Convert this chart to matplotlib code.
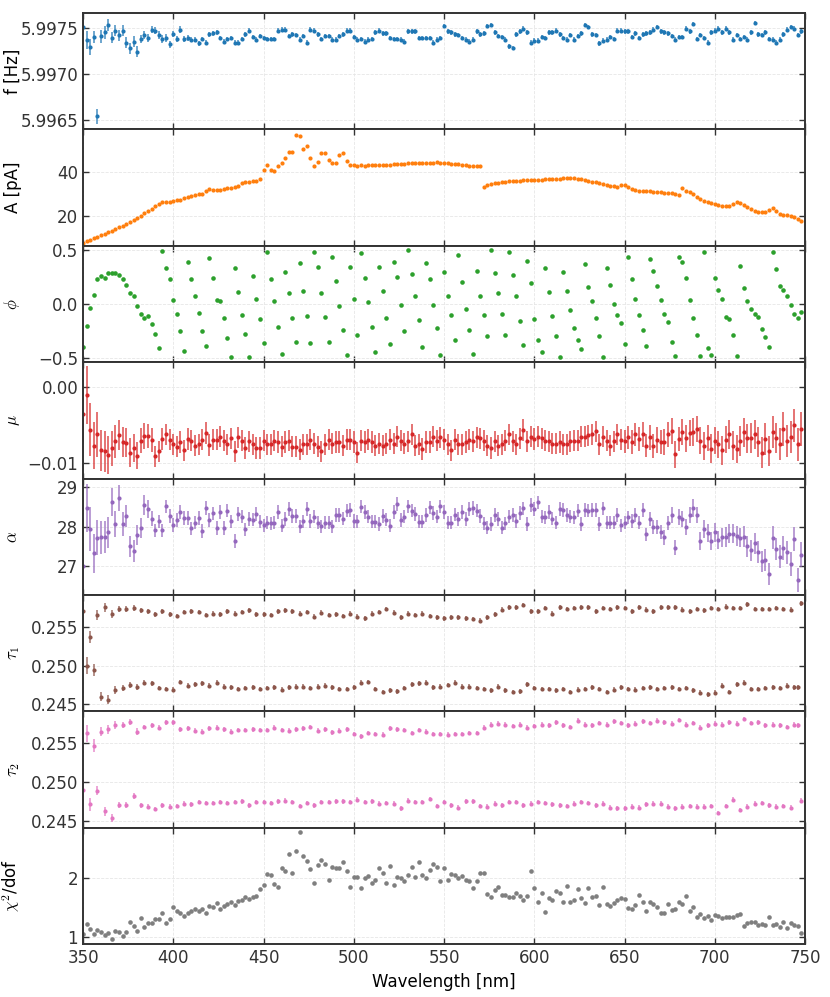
import numpy as np
import matplotlib
matplotlib.use('Agg')
import matplotlib.pyplot as plt
from matplotlib.colors import to_rgba
from matplotlib.ticker import FuncFormatter

# wavelength grid, 350 .. 748 nm in 2 nm steps
wavelength = np.arange(350, 750, 2)

freq = [
    5.99751, 5.99737, 5.99729, 5.99740, 5.99654, 5.99741, 5.99745, 5.99753, 5.99739, 5.99747,
    5.99742, 5.99747, 5.99734, 5.99728, 5.99735, 5.99724, 5.99738, 5.99742, 5.99739, 5.99748,
    5.99747, 5.99742, 5.99738, 5.99739, 5.99732, 5.99743, 5.99738, 5.99748, 5.99738, 5.99739,
    5.99737, 5.99737, 5.99733, 5.99738, 5.99734, 5.99743, 5.99744, 5.99745, 5.99739, 5.99735,
    5.99738, 5.99739, 5.99734, 5.99734, 5.99738, 5.99743, 5.99747, 5.99740, 5.99737, 5.99741,
    5.99739, 5.99738, 5.99738, 5.99738, 5.99747, 5.99748, 5.99748, 5.99741, 5.99743, 5.99742,
    5.99737, 5.99741, 5.99734, 5.99748, 5.99747, 5.99743, 5.99738, 5.99741, 5.99741, 5.99737,
    5.99737, 5.99741, 5.99743, 5.99747, 5.99747, 5.99740, 5.99737, 5.99738, 5.99735, 5.99737,
    5.99738, 5.99745, 5.99747, 5.99744, 5.99744, 5.99739, 5.99738, 5.99738, 5.99737, 5.99735,
    5.99746, 5.99746, 5.99746, 5.99739, 5.99739, 5.99739, 5.99739, 5.99734, 5.99737, 5.99739,
    5.99752, 5.99746, 5.99745, 5.99743, 5.99742, 5.99739, 5.99737, 5.99735, 5.99737, 5.99746,
    5.99743, 5.99744, 5.99752, 5.99753, 5.99745, 5.99741, 5.99740, 5.99737, 5.99730, 5.99728,
    5.99743, 5.99746, 5.99749, 5.99745, 5.99734, 5.99736, 5.99736, 5.99740, 5.99739, 5.99745,
    5.99745, 5.99747, 5.99743, 5.99739, 5.99737, 5.99742, 5.99737, 5.99741, 5.99744, 5.99753,
    5.99751, 5.99743, 5.99742, 5.99733, 5.99736, 5.99737, 5.99740, 5.99738, 5.99747, 5.99747,
    5.99746, 5.99746, 5.99740, 5.99744, 5.99739, 5.99743, 5.99744, 5.99745, 5.99748, 5.99751,
    5.99746, 5.99745, 5.99744, 5.99741, 5.99737, 5.99740, 5.99740, 5.99749, 5.99746, 5.99754,
    5.99738, 5.99742, 5.99739, 5.99734, 5.99745, 5.99747, 5.99749, 5.99745, 5.99749, 5.99745,
    5.99737, 5.99742, 5.99738, 5.99740, 5.99737, 5.99745, 5.99755, 5.99743, 5.99742, 5.99745,
    5.99738, 5.99737, 5.99734, 5.99737, 5.99743, 5.99748, 5.99751, 5.99749, 5.99742, 5.99746,
]
freq_err = ([9e-5, 1e-4, 9e-5, 7e-5, 8e-5, 7e-5, 7e-5, 7e-5, 6e-5, 6e-5,
             6e-5, 6e-5, 6e-5, 6e-5, 6e-5, 6e-5, 4e-5, 4e-5, 4e-5, 4e-5,
             4e-5, 4e-5, 4e-5, 4e-5, 4e-5, 3.5e-5, 3.5e-5, 3.5e-5, 3.5e-5, 3.5e-5]
            + [2.5e-5] * 170)

amp = [
    7.8, 8.5, 9.3, 10.0, 10.7, 11.4, 12.1, 12.7, 13.4, 14.1,
    14.9, 15.7, 16.6, 17.5, 18.4, 19.3, 20.3, 21.3, 22.3, 23.3,
    24.5, 25.5, 26.3, 26.5, 26.7, 26.9, 27.2, 27.6, 28.2, 28.8,
    29.3, 29.8, 30.0, 30.2, 31.5, 32.3, 32.0, 31.9, 32.1, 32.4,
    32.7, 33.0, 33.4, 34.0, 35.3, 35.6, 35.7, 36.0, 36.3, 36.9,
    41.0, 43.4, 41.0, 40.5, 42.8, 44.3, 46.6, 49.2, 49.5, 57.2,
    56.6, 50.8, 52.0, 46.5, 42.8, 44.6, 48.9, 48.8, 45.7, 44.2,
    44.2, 48.0, 48.9, 45.1, 43.4, 43.2, 43.1, 43.2, 43.1, 43.3,
    43.2, 43.3, 43.4, 43.5, 43.5, 43.6, 43.7, 43.8, 43.9, 44.0,
    44.1, 44.2, 44.3, 44.4, 44.3, 44.2, 44.3, 44.5, 44.6, 44.4,
    44.3, 44.2, 44.0, 43.9, 43.7, 43.5, 43.3, 43.1, 43.0, 42.9,
    42.8, 33.4, 34.3, 34.8, 35.1, 35.4, 35.6, 35.8, 36.0, 36.2,
    36.2, 36.3, 36.4, 36.5, 36.5, 36.6, 36.6, 36.7, 36.8, 36.9,
    37.0, 37.1, 37.2, 37.3, 37.4, 37.4, 37.3, 37.2, 37.0, 36.6,
    36.2, 35.8, 35.5, 35.2, 34.8, 34.4, 34.0, 33.7, 33.5, 34.4,
    34.3, 33.4, 32.3, 31.8, 31.5, 31.4, 31.3, 31.3, 31.2, 31.1,
    31.0, 30.8, 30.6, 30.4, 30.1, 29.7, 32.8, 31.6, 31.2, 30.2,
    29.0, 28.0, 27.0, 26.4, 26.0, 25.7, 25.2, 24.9, 24.7, 24.6,
    25.4, 26.3, 26.2, 25.2, 24.2, 23.1, 22.4, 21.9, 21.8, 22.1,
    22.7, 23.6, 22.3, 20.9, 20.6, 20.5, 20.3, 19.8, 18.9, 17.8,
]
amp_err = [0.3] * 200

phase = [
    -0.40, -0.20, -0.04, 0.08, 0.23, 0.26, 0.24, 0.29, 0.29, 0.29,
    0.27, 0.23, 0.18, 0.10, 0.07, -0.02, -0.09, -0.13, -0.11, -0.19,
    -0.28, -0.41, 0.49, 0.33, 0.23, 0.04, -0.09, -0.25, -0.44, 0.39,
    0.23, 0.07, -0.08, -0.25, -0.39, 0.43, 0.24, 0.04, 0.03, -0.13,
    -0.32, -0.49, 0.33, 0.11, -0.10, -0.28, -0.49, 0.26, 0.05, -0.14,
    -0.36, 0.48, 0.23, 0.03, -0.21, -0.46, 0.30, 0.10, -0.13, -0.35,
    0.38, 0.12, -0.11, -0.36, 0.48, 0.34, 0.10, -0.12, -0.35, 0.44,
    0.21, -0.02, -0.24, -0.47, 0.34, 0.05, -0.29, 0.47, 0.24, 0.02,
    -0.21, -0.45, 0.34, 0.12, -0.13, -0.37, 0.39, 0.25, -0.01, -0.25,
    0.50, 0.28, 0.07, -0.15, -0.40, 0.38, 0.23, -0.01, -0.22, -0.47,
    0.30, 0.07, -0.10, -0.33, 0.45, 0.20, -0.05, -0.24, -0.46, 0.31,
    0.07, -0.10, -0.30, 0.50, 0.29, 0.10, -0.09, -0.29, 0.48, 0.27,
    0.07, -0.16, -0.38, 0.40, 0.19, -0.14, -0.33, -0.45, 0.33, 0.11,
    -0.11, -0.30, -0.49, 0.30, 0.12, -0.06, -0.22, -0.33, -0.42, 0.37,
    0.16, 0.03, -0.13, -0.30, -0.49, 0.33, 0.18, 0.00, -0.10, -0.18,
    -0.375, 0.44, 0.23, 0.05, -0.10, -0.24, -0.39, 0.42, 0.31, 0.17,
    0.04, -0.09, -0.17, -0.35, -0.48, 0.44, 0.39, 0.24, 0.04, -0.13,
    -0.29, -0.48, 0.48, -0.41, -0.47, 0.24, 0.13, 0.05, -0.12, -0.14,
    -0.29, -0.48, 0.35, 0.15, 0.03, -0.05, -0.09, -0.125, -0.23, -0.31,
    -0.40, 0.48, 0.32, 0.17, 0.13, 0.07, -0.01, -0.09, -0.13, -0.075,
]

mu = [
    -0.0036, -0.0011, -0.0057, -0.0078, -0.0063, -0.0084, -0.0085, -0.0090, -0.0081, -0.0072,
    -0.0064, -0.0073, -0.0074, -0.0087, -0.0081, -0.0091, -0.0071, -0.0065, -0.0065, -0.0070,
    -0.0092, -0.0085, -0.0069, -0.0063, -0.0070, -0.0076, -0.0079, -0.0073, -0.0084, -0.0069,
    -0.0071, -0.0078, -0.0076, -0.0070, -0.0061, -0.0077, -0.0070, -0.0070, -0.0066, -0.0071,
    -0.0076, -0.0068, -0.0085, -0.0067, -0.0071, -0.0081, -0.0072, -0.0076, -0.0081, -0.0081,
    -0.0071, -0.0076, -0.0076, -0.0071, -0.0073, -0.0079, -0.0073, -0.0071, -0.0079, -0.0079,
    -0.0083, -0.0076, -0.0076, -0.0070, -0.0075, -0.0079, -0.0085, -0.0076, -0.0070, -0.0075,
    -0.0073, -0.0073, -0.0078, -0.0070, -0.0070, -0.0073, -0.0087, -0.0071, -0.0073, -0.0070,
    -0.0073, -0.0078, -0.0075, -0.0078, -0.0075, -0.0070, -0.0075, -0.0066, -0.0071, -0.0075,
    -0.0072, -0.0063, -0.0078, -0.0076, -0.0082, -0.0073, -0.0073, -0.0066, -0.0071, -0.0067,
    -0.0070, -0.0076, -0.0084, -0.0070, -0.0076, -0.0076, -0.0073, -0.0070, -0.0072, -0.0067,
    -0.0068, -0.0071, -0.0078, -0.0081, -0.0072, -0.0078, -0.0076, -0.0071, -0.0063, -0.0072,
    -0.0076, -0.0068, -0.0057, -0.0072, -0.0066, -0.0069, -0.0066, -0.0068, -0.0071, -0.0072,
    -0.0075, -0.0075, -0.0073, -0.0076, -0.0076, -0.0072, -0.0071, -0.0071, -0.0066, -0.0066,
    -0.0064, -0.0063, -0.0059, -0.0076, -0.0066, -0.0071, -0.0078, -0.0072, -0.0063, -0.0070,
    -0.0072, -0.0067, -0.0073, -0.0063, -0.0069, -0.0063, -0.0078, -0.0067, -0.0078, -0.0070,
    -0.0073, -0.0073, -0.0063, -0.0059, -0.0089, -0.0069, -0.0060, -0.0068, -0.0061, -0.0060,
    -0.0056, -0.0071, -0.0078, -0.0068, -0.0082, -0.0071, -0.0076, -0.0084, -0.0070, -0.0063,
    -0.0078, -0.0082, -0.0072, -0.0060, -0.0068, -0.0068, -0.0063, -0.0073, -0.0087, -0.0069,
    -0.0085, -0.0060, -0.0068, -0.0076, -0.0056, -0.0072, -0.0066, -0.0051, -0.0076, -0.0056,
]
mu_err = ([0.0037, 0.0038, 0.0035, 0.0031, 0.0030, 0.0027, 0.0027, 0.0025, 0.0023, 0.0022,
           0.0020, 0.0020, 0.0019, 0.0019, 0.0018, 0.0018, 0.0017, 0.0017, 0.0016, 0.0016]
          + [0.0014] * 130
          + [0.0015, 0.0015, 0.0016, 0.0015, 0.0016, 0.0016, 0.0015, 0.0016, 0.0016, 0.0017,
             0.0016, 0.0017, 0.0016, 0.0017, 0.0018, 0.0016, 0.0017, 0.0018, 0.0017, 0.0018,
             0.0017, 0.0018, 0.0018, 0.0017, 0.0019, 0.0018, 0.0018, 0.0019, 0.0018, 0.0019,
             0.0019, 0.0018, 0.0020, 0.0019, 0.0019, 0.0020, 0.0019, 0.0020, 0.0020, 0.0021,
             0.0020, 0.0021, 0.0020, 0.0021, 0.0022, 0.0021, 0.0021, 0.0022, 0.0022, 0.0022])

alpha = [
    27.02, 28.48, 27.94, 27.33, 27.73, 27.74, 27.75, 27.86, 28.62, 28.07,
    28.72, 28.07, 28.28, 27.51, 27.39, 27.79, 27.97, 28.56, 28.45, 28.21,
    27.91, 28.14, 27.91, 28.52, 28.28, 28.05, 28.17, 28.37, 28.22, 28.22,
    27.96, 28.11, 28.22, 27.90, 28.48, 28.17, 28.34, 27.97, 28.37, 27.97,
    28.41, 28.14, 27.64, 28.32, 28.26, 27.94, 28.20, 28.18, 28.32, 28.13,
    28.04, 28.11, 28.09, 28.11, 28.38, 28.03, 28.20, 28.45, 28.28, 28.28,
    28.01, 28.14, 28.45, 28.15, 28.26, 28.11, 28.01, 28.11, 28.11, 28.01,
    28.30, 28.30, 28.21, 28.41, 28.43, 28.15, 28.14, 28.51, 28.38, 28.26,
    28.13, 28.13, 28.07, 28.28, 28.18, 28.03, 28.37, 28.58, 28.17, 28.26,
    28.52, 28.41, 28.32, 28.13, 28.13, 28.30, 28.49, 28.35, 28.26, 28.52,
    28.38, 28.11, 28.11, 28.31, 28.20, 28.38, 28.20, 28.45, 28.48, 28.41,
    28.28, 28.09, 27.98, 28.07, 28.30, 28.20, 27.98, 28.09, 28.26, 28.30,
    28.15, 28.35, 28.47, 28.07, 28.55, 28.45, 28.62, 28.26, 28.24, 28.38,
    28.21, 28.11, 28.45, 28.43, 28.30, 28.26, 28.24, 28.41, 28.07, 28.43,
    28.41, 28.43, 28.43, 28.07, 28.47, 28.11, 28.11, 28.11, 28.30, 28.04,
    28.11, 28.24, 28.15, 28.30, 28.11, 28.43, 27.81, 28.20, 28.00, 28.00,
    27.87, 27.74, 28.09, 28.30, 27.47, 28.24, 28.20, 28.00, 28.30, 28.48,
    28.30, 27.64, 27.94, 27.84, 27.64, 27.87, 27.67, 27.74, 27.74, 27.83,
    27.83, 27.77, 27.73, 27.75, 27.51, 27.41, 27.58, 27.36, 27.13, 27.16,
    26.81, 27.73, 27.45, 27.24, 27.47, 27.36, 27.07, 27.69, 26.65, 27.30,
]
alpha_err = ([0.57, 0.60, 0.55, 0.49, 0.45, 0.42, 0.40, 0.40, 0.35, 0.33,
              0.33, 0.30, 0.28, 0.26, 0.28, 0.26, 0.25, 0.25, 0.22, 0.20]
             + [0.17] * 140
             + [0.18, 0.19, 0.18, 0.20, 0.19, 0.20, 0.21, 0.20, 0.21, 0.22,
                0.21, 0.22, 0.23, 0.22, 0.23, 0.24, 0.23, 0.24, 0.25, 0.24,
                0.25, 0.26, 0.25, 0.26, 0.27, 0.26, 0.27, 0.28, 0.27, 0.28,
                0.28, 0.29, 0.28, 0.29, 0.30, 0.29, 0.30, 0.31, 0.30, 0.31])

tau1 = [
    0.2570, 0.2500, 0.2537, 0.2494, 0.2565, 0.2460, 0.2575, 0.2456, 0.2566, 0.2469,
    0.2573, 0.2471, 0.2573, 0.2475, 0.2574, 0.2472, 0.2571, 0.2478, 0.2570, 0.2477,
    0.2566, 0.2471, 0.2570, 0.2470, 0.2566, 0.2469, 0.2564, 0.2479, 0.2569, 0.2474,
    0.2570, 0.2476, 0.2569, 0.2477, 0.2565, 0.2474, 0.2567, 0.2478, 0.2566, 0.2473,
    0.2570, 0.2472, 0.2567, 0.2470, 0.2569, 0.2471, 0.2571, 0.2472, 0.2566, 0.2470,
    0.2566, 0.2471, 0.2565, 0.2472, 0.2570, 0.2469, 0.2571, 0.2472, 0.2570, 0.2473,
    0.2567, 0.2473, 0.2569, 0.2471, 0.2563, 0.2473, 0.2568, 0.2474, 0.2565, 0.2472,
    0.2566, 0.2470, 0.2564, 0.2470, 0.2567, 0.2472, 0.2563, 0.2478, 0.2561, 0.2479,
    0.2567, 0.2470, 0.2569, 0.2466, 0.2573, 0.2468, 0.2568, 0.2467, 0.2562, 0.2471,
    0.2567, 0.2476, 0.2565, 0.2477, 0.2567, 0.2478, 0.2564, 0.2472, 0.2562, 0.2473,
    0.2561, 0.2475, 0.2562, 0.2478, 0.2562, 0.2473, 0.2561, 0.2473, 0.2560, 0.2471,
    0.2558, 0.2470, 0.2562, 0.2468, 0.2566, 0.2473, 0.2572, 0.2468, 0.2575, 0.2466,
    0.2575, 0.2467, 0.2578, 0.2476, 0.2570, 0.2471, 0.2570, 0.2470, 0.2574, 0.2470,
    0.2567, 0.2468, 0.2575, 0.2470, 0.2573, 0.2466, 0.2574, 0.2469, 0.2575, 0.2470,
    0.2575, 0.2472, 0.2570, 0.2470, 0.2574, 0.2466, 0.2573, 0.2469, 0.2575, 0.2472,
    0.2574, 0.2470, 0.2570, 0.2469, 0.2575, 0.2471, 0.2572, 0.2472, 0.2570, 0.2470,
    0.2575, 0.2471, 0.2575, 0.2472, 0.2575, 0.2470, 0.2572, 0.2471, 0.2570, 0.2468,
    0.2573, 0.2465, 0.2571, 0.2463, 0.2574, 0.2465, 0.2573, 0.2474, 0.2576, 0.2466,
    0.2574, 0.2476, 0.2574, 0.2478, 0.2579, 0.2470, 0.2573, 0.2470, 0.2573, 0.2471,
    0.2573, 0.2472, 0.2574, 0.2471, 0.2573, 0.2474, 0.2572, 0.2472, 0.2472, 0.2580,
]
tau2 = [
    0.2490, 0.2563, 0.2471, 0.2547, 0.2489, 0.2565, 0.2462, 0.2568, 0.2454, 0.2573,
    0.2470, 0.2573, 0.2470, 0.2577, 0.2482, 0.2565, 0.2470, 0.2571, 0.2468, 0.2573,
    0.2465, 0.2570, 0.2470, 0.2577, 0.2468, 0.2577, 0.2469, 0.2568, 0.2472, 0.2569,
    0.2471, 0.2566, 0.2474, 0.2565, 0.2473, 0.2569, 0.2473, 0.2570, 0.2474, 0.2568,
    0.2473, 0.2565, 0.2474, 0.2567, 0.2475, 0.2567, 0.2470, 0.2568, 0.2474, 0.2567,
    0.2474, 0.2567, 0.2473, 0.2570, 0.2475, 0.2567, 0.2476, 0.2566, 0.2474, 0.2568,
    0.2469, 0.2569, 0.2473, 0.2571, 0.2470, 0.2566, 0.2474, 0.2568, 0.2474, 0.2564,
    0.2475, 0.2566, 0.2475, 0.2568, 0.2474, 0.2562, 0.2477, 0.2559, 0.2474, 0.2563,
    0.2475, 0.2562, 0.2472, 0.2561, 0.2473, 0.2569, 0.2472, 0.2568, 0.2466, 0.2567,
    0.2476, 0.2563, 0.2474, 0.2567, 0.2474, 0.2565, 0.2478, 0.2562, 0.2469, 0.2562,
    0.2474, 0.2561, 0.2470, 0.2562, 0.2467, 0.2562, 0.2475, 0.2563, 0.2475, 0.2563,
    0.2469, 0.2570, 0.2468, 0.2574, 0.2472, 0.2575, 0.2470, 0.2574, 0.2474, 0.2572,
    0.2474, 0.2574, 0.2470, 0.2570, 0.2472, 0.2572, 0.2474, 0.2574, 0.2473, 0.2573,
    0.2471, 0.2577, 0.2470, 0.2573, 0.2469, 0.2571, 0.2472, 0.2579, 0.2474, 0.2574,
    0.2473, 0.2573, 0.2470, 0.2576, 0.2472, 0.2574, 0.2467, 0.2578, 0.2466, 0.2576,
    0.2466, 0.2573, 0.2468, 0.2575, 0.2467, 0.2578, 0.2471, 0.2576, 0.2472, 0.2579,
    0.2472, 0.2577, 0.2468, 0.2575, 0.2466, 0.2580, 0.2468, 0.2574, 0.2469, 0.2576,
    0.2468, 0.2570, 0.2468, 0.2573, 0.2469, 0.2575, 0.2460, 0.2574, 0.2469, 0.2577,
    0.2477, 0.2575, 0.2464, 0.2581, 0.2468, 0.2576, 0.2472, 0.2577, 0.2473, 0.2573,
    0.2470, 0.2574, 0.2468, 0.2573, 0.2469, 0.2571, 0.2467, 0.2574, 0.2573, 0.2476,
]
tau_err = ([0.0011, 0.0011, 0.0008, 0.0008, 0.0006, 0.0006, 0.0006, 0.0006, 0.0005, 0.0005,
            0.0004, 0.0004, 0.0004, 0.0004, 0.0004, 0.0004]
           + [0.0003] * 184)

chi2 = [
    1.06, 1.23, 1.15, 1.06, 1.12, 1.10, 1.04, 1.08, 0.98, 1.11,
    1.10, 1.03, 1.10, 1.27, 1.20, 1.11, 1.33, 1.17, 1.24, 1.24,
    1.32, 1.32, 1.41, 1.24, 1.32, 1.52, 1.45, 1.42, 1.37, 1.41,
    1.45, 1.49, 1.45, 1.48, 1.42, 1.53, 1.51, 1.58, 1.48, 1.54,
    1.56, 1.60, 1.55, 1.62, 1.64, 1.69, 1.66, 1.69, 1.70, 1.82,
    1.89, 2.07, 2.06, 1.90, 1.85, 2.17, 2.13, 2.41, 2.10, 2.46,
    2.78, 2.38, 2.29, 2.16, 1.92, 2.23, 2.32, 2.25, 1.98, 2.19,
    2.18, 2.18, 2.28, 2.13, 1.85, 2.03, 2.02, 1.84, 2.00, 2.05,
    1.93, 1.98, 2.17, 2.10, 1.93, 2.22, 1.89, 2.03, 2.01, 1.96,
    2.06, 2.19, 2.03, 2.28, 2.06, 2.00, 2.14, 2.24, 2.19, 1.95,
    2.18, 1.97, 2.07, 2.06, 2.00, 2.05, 1.98, 1.96, 1.84, 1.96,
    2.09, 2.10, 1.73, 1.68, 1.80, 1.86, 1.72, 1.72, 1.69, 1.68,
    1.75, 1.70, 1.64, 1.71, 2.13, 1.84, 1.60, 1.75, 1.43, 1.67,
    1.63, 1.78, 1.75, 1.61, 1.88, 1.60, 1.64, 1.82, 1.67, 1.58,
    1.84, 1.68, 1.70, 1.55, 1.86, 1.56, 1.53, 1.58, 1.63, 1.67,
    1.65, 1.50, 1.48, 1.55, 1.72, 1.61, 1.45, 1.60, 1.57, 1.52,
    1.41, 1.41, 1.56, 1.46, 1.49, 1.60, 1.56, 1.71, 1.45, 1.51,
    1.35, 1.40, 1.33, 1.36, 1.29, 1.38, 1.37, 1.33, 1.35, 1.34,
    1.34, 1.38, 1.39, 1.19, 1.25, 1.27, 1.26, 1.22, 1.23, 1.21,
    1.35, 1.22, 1.23, 1.18, 1.26, 1.16, 1.25, 1.21, 1.19, 1.08,
]

plt.rcParams['font.family'] = ['DejaVu Sans']
plt.rcParams['mathtext.fontset'] = 'cm'
plt.rcParams['axes.edgecolor'] = '#333333'
plt.rcParams['text.color'] = '#333333'
plt.rcParams['xtick.color'] = '#333333'
plt.rcParams['ytick.color'] = '#333333'


def fmt(pattern):
    return FuncFormatter(lambda v, pos: (pattern % v).replace('-', '\u2212'))


def draw(ax, y, err, color, label, ylim, yticks, pattern):
    if err is None:
        ax.plot(wavelength, y, 'o', ms=3.3, color=color, mew=0)
    else:
        ax.errorbar(wavelength, y, yerr=err, fmt='o', ms=3.0, color=color, mew=0,
                    ecolor=to_rgba(color, 0.7), elinewidth=1.3, capsize=2.2, capthick=1.3)
    ax.set_ylabel(label, fontsize=12)
    ax.yaxis.set_label_coords(-0.085, 0.5)
    ax.set_ylim(*ylim)
    ax.set_yticks(yticks)
    ax.yaxis.set_major_formatter(fmt(pattern))
    ax.grid(True, ls='--', lw=0.6, color='#e6e6e6')
    ax.set_axisbelow(True)
    ax.tick_params(direction='in', top=True, right=True, length=4, width=1, labelsize=12)
    for s in ax.spines.values():
        s.set_linewidth(1.4)


fig, axes = plt.subplots(8, 1, sharex=True, figsize=(8.3, 9.97), dpi=100)
fig.subplots_adjust(left=0.1, right=0.97, top=0.987, bottom=0.053, hspace=0)

draw(axes[0], freq, freq_err, 'C0', 'f [Hz]', (5.99640, 5.99766),
     [5.9965, 5.9970, 5.9975], '%.4f')
draw(axes[1], amp, amp_err, 'C1', 'A [pA]', (6.5, 59.7), [20, 40], '%.0f')
draw(axes[2], phase, None, 'C2', r'$\phi$', (-0.54, 0.54), [-0.5, 0.0, 0.5], '%.1f')
draw(axes[3], mu, mu_err, 'C3', r'$\mu$', (-0.0121, 0.0032), [-0.01, 0.0], '%.2f')
draw(axes[4], alpha, alpha_err, 'C4', r'$\alpha$', (26.28, 29.22), [27, 28, 29], '%.0f')
draw(axes[5], tau1, tau_err, 'C5', r'$\tau_1$', (0.2441, 0.2591),
     [0.245, 0.250, 0.255], '%.3f')
draw(axes[6], tau2, tau_err, 'C6', r'$\tau_2$', (0.2441, 0.2591),
     [0.245, 0.250, 0.255], '%.3f')
draw(axes[7], chi2, None, 'C7', r'$\chi^2$/dof', (0.887, 2.86), [1, 2], '%.0f')

axes[-1].set_xlim(350, 750)
axes[-1].set_xticks(range(350, 751, 50))
axes[-1].set_xlabel('Wavelength [nm]', fontsize=12)

fig.savefig('out.png', dpi=100)
